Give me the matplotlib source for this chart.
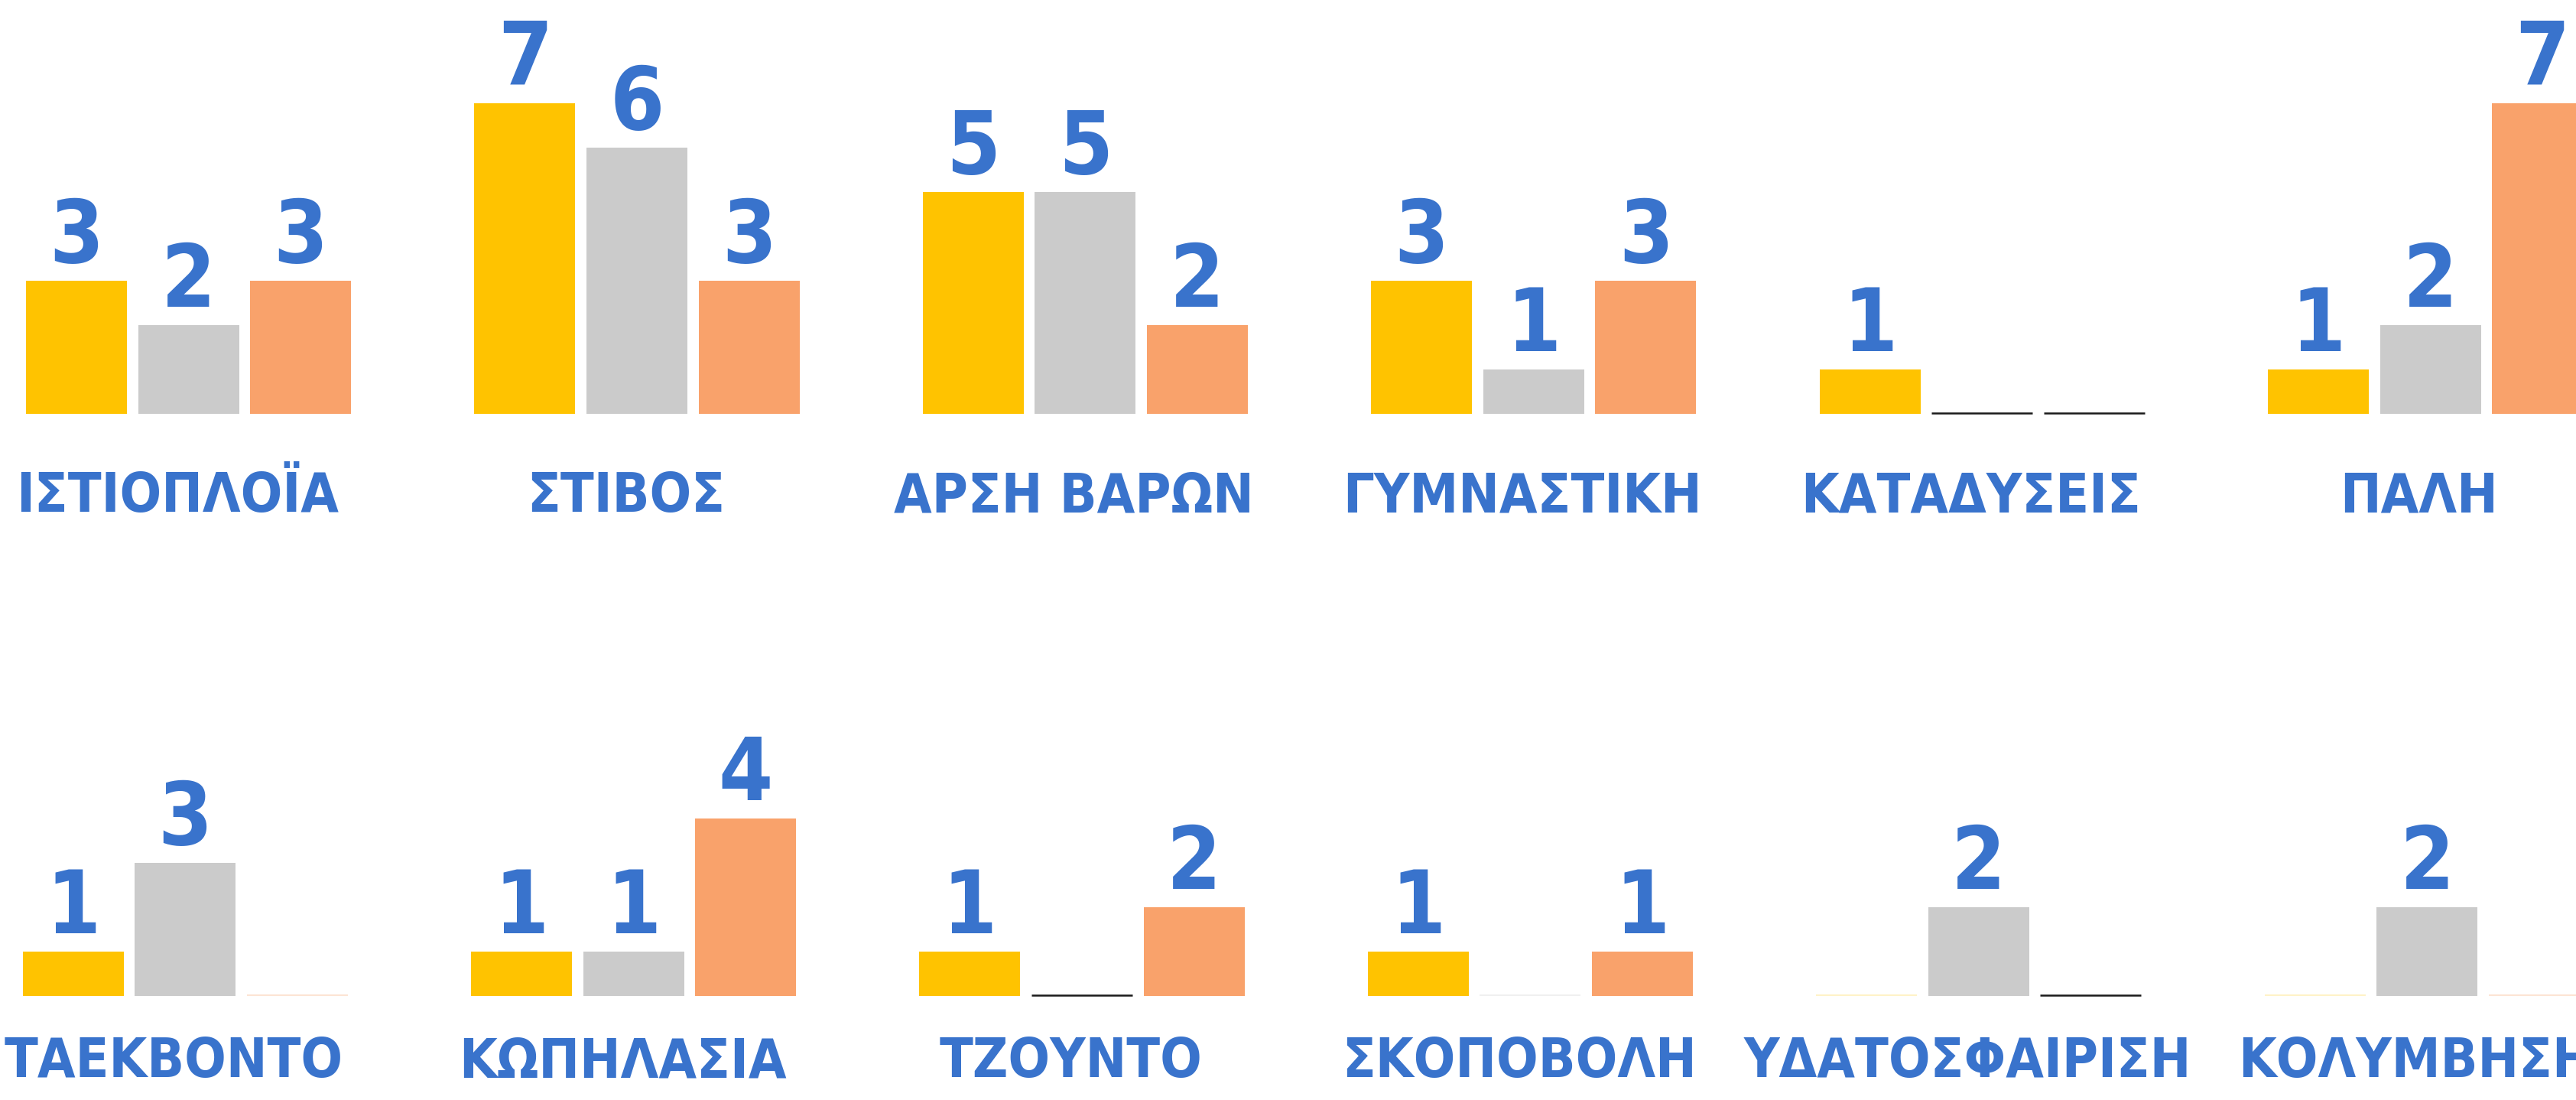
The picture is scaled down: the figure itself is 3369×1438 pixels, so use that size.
import matplotlib
matplotlib.use("Agg")
import matplotlib.pyplot as plt
from matplotlib.font_manager import FontProperties, findfont

# medals per sport: gold, silver, bronze
sports_top = ["ΙΣΤΙΟΠΛΟΪΑ", "ΣΤΙΒΟΣ", "ΑΡΣΗ ΒΑΡΩΝ", "ΓΥΜΝΑΣΤΙΚΗ", "ΚΑΤΑΔΥΣΕΙΣ", "ΠΑΛΗ"]
gold_top = [3, 7, 5, 3, 1, 1]
silver_top = [2, 6, 5, 1, 0, 2]
bronze_top = [3, 3, 2, 3, 0, 7]

sports_bottom = ["ΤΑΕΚΒΟΝΤΟ", "ΚΩΠΗΛΑΣΙΑ", "ΤΖΟΥΝΤΟ", "ΣΚΟΠΟΒΟΛΗ", "ΥΔΑΤΟΣΦΑΙΡΙΣΗ", "ΚΟΛΥΜΒΗΣΗ"]
gold_bottom = [1, 1, 1, 1, 0, 0]
silver_bottom = [3, 1, 0, 0, 2, 2]
bronze_bottom = [0, 4, 2, 1, 0, 0]

BLUE = "#3973CC"
medal_colors = ["#FFC300", "#CBCBCB", "#F9A26B"]
faint_colors = ["#FFF3C8", "#F0F0F0", "#FDE4D4"]
# empty bars that show a dark baseline instead of a faint one: (sport index, medal index)
dark_zero_top = {(4, 1), (4, 2)}
dark_zero_bottom = {(2, 1), (4, 2)}

# use the condensed cut of DejaVu when it is installed
cond = FontProperties(family="DejaVu Sans", weight="bold", stretch="condensed")
STRETCH = "condensed" if "Condensed" in findfont(cond) else "normal"

W, H, DPI = 3369, 1438, 100
fig = plt.figure(figsize=(W / DPI, H / DPI), dpi=DPI)
renderer = fig.canvas.get_renderer()

unit_x = 146.6   # px per bar slot
unit_y = 58.0    # px per medal
x0_px = 100.0    # centre of first bar

# pick a label size so the longest sport name stays inside its column
probe = fig.text(0, 0, max(sports_top + sports_bottom, key=len), fontsize=70,
                 fontweight="bold", fontstretch=STRETCH)
probe_w = probe.get_window_extent(renderer).width
probe.remove()
label_size = min(70, 70 * 585 / probe_w)
cap_px = 0.73 * label_size * DPI / 72


def draw_row(ax, sports, gold, silver, bronze, dark_zero, base_px_from_bottom,
             shift=0.0, label_gap=102):
    ax_h = 0.5 * H
    lo = -base_px_from_bottom / unit_y
    ax.set_ylim(lo, lo + ax_h / unit_y)
    left = -x0_px / unit_x + shift
    ax.set_xlim(left, left + W / unit_x)
    ax.axis("off")
    label_y = -(label_gap + cap_px / 2) / unit_y
    for i, name in enumerate(sports):
        vals = [gold[i], silver[i], bronze[i]]
        for m, v in enumerate(vals):
            x = 4 * i + m
            if v > 0:
                ax.bar(x, v, width=0.9, color=medal_colors[m], linewidth=0)
                ax.text(x, v + 0.42, str(v), ha="center", va="baseline",
                        fontsize=82, fontweight="heavy", fontstretch=STRETCH, color=BLUE)
            else:
                dark = (i, m) in dark_zero
                ax.hlines(0.02, x - 0.45, x + 0.45,
                          color="#1a1a1a" if dark else faint_colors[m],
                          linewidth=1.8 if dark else 1.5)
        ax.text(4 * i + 1 - 0.1, label_y, name, ha="center", va="baseline",
                fontsize=label_size, fontweight="bold", fontstretch=STRETCH,
                color=BLUE, clip_on=False)


ax_top = fig.add_axes([0, 0.5, 1, 0.5])
draw_row(ax_top, sports_top, gold_top, silver_top, bronze_top, dark_zero_top,
         base_px_from_bottom=0.5 * H - 541)

ax_bot = fig.add_axes([0, 0, 1, 0.5])
draw_row(ax_bot, sports_bottom, gold_bottom, silver_bottom, bronze_bottom, dark_zero_bottom,
         base_px_from_bottom=H - 1302, shift=0.03, label_gap=80)

fig.savefig("out.png", dpi=DPI, facecolor="white")
